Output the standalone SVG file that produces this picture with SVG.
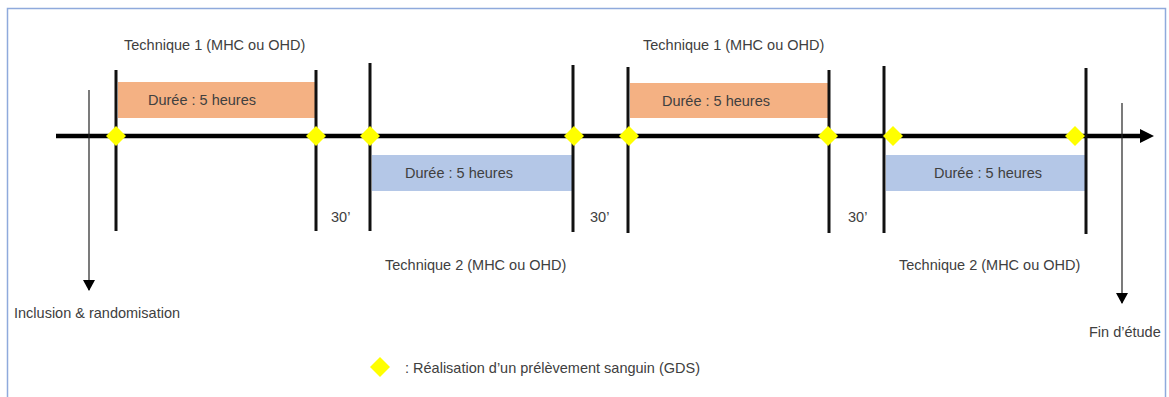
<svg xmlns="http://www.w3.org/2000/svg" width="1169" height="397" viewBox="0 0 1169 397">
<style>
text{font-family:"Liberation Sans",Arial,sans-serif;font-size:14.5px;fill:#404040}
.v{stroke:#111;stroke-width:3}
.thin{stroke:#222;stroke-width:1.2}
.or{fill:#F4B183}
.bl{fill:#B4C7E7}
.dm{fill:#FFFF00}
</style>
<defs>
<marker id="ah" markerWidth="12" markerHeight="12" refX="10" refY="6" orient="auto" markerUnits="userSpaceOnUse">
<path d="M0,0 L11,6 L0,12 Z" fill="#000"/>
</marker>
<path id="d" d="M0,-10 L10,0 L0,10 L-10,0 Z" class="dm"/>
</defs>
<rect x="7.5" y="8.5" width="1158" height="395" fill="#fff" stroke="#8FAADC" stroke-width="1.5"/>
<g id="connectors">
<line x1="56" y1="136" x2="1142" y2="136" stroke="#000" stroke-width="4.5"/>
<path d="M1140,129 L1154,136 L1140,143 Z" fill="#000"/>
<line class="thin" x1="89" y1="90" x2="89" y2="290" marker-end="url(#ah)"/>
<line class="thin" x1="1122" y1="103" x2="1122" y2="303" marker-end="url(#ah)"/>
</g>
<g id="tech1a"><rect class="or" x="118" y="82" width="198" height="36"/><text x="148" y="105">Durée : 5 heures</text><text x="124" y="50">Technique 1 (MHC ou OHD)</text></g>
<g id="tech2a"><rect class="bl" x="372" y="155" width="200" height="36"/><text x="405" y="178">Durée : 5 heures</text><text x="385" y="270">Technique 2 (MHC ou OHD)</text></g>
<g id="tech1b"><rect class="or" x="630" y="83" width="198" height="35"/><text x="662" y="106">Durée : 5 heures</text><text x="643" y="50">Technique 1 (MHC ou OHD)</text></g>
<g id="tech2b"><rect class="bl" x="886" y="155" width="200" height="36"/><text x="934" y="178">Durée : 5 heures</text><text x="899" y="270">Technique 2 (MHC ou OHD)</text></g>
<g id="ticks">
<line class="v" x1="116" y1="70" x2="116" y2="231"/>
<line class="v" x1="316" y1="70" x2="316" y2="231"/>
<line class="v" x1="370" y1="63" x2="370" y2="231"/>
<line class="v" x1="573" y1="65" x2="573" y2="232"/>
<line class="v" x1="628" y1="67" x2="628" y2="233"/>
<line class="v" x1="829" y1="70" x2="829" y2="233"/>
<line class="v" x1="884" y1="66" x2="884" y2="233"/>
<line class="v" x1="1086" y1="68" x2="1086" y2="234"/>
</g>
<g id="samples">
<use href="#d" x="116" y="136"/>
<use href="#d" x="316" y="136"/>
<use href="#d" x="370" y="136"/>
<use href="#d" x="574" y="136"/>
<use href="#d" x="629" y="136"/>
<use href="#d" x="828" y="136"/>
<use href="#d" x="893" y="136"/>
<use href="#d" x="1075" y="136"/>
</g>
<g id="gaps">
<text x="331" y="222">30’</text>
<text x="590" y="222">30’</text>
<text x="848" y="222">30’</text>
</g>
<g id="start"><text x="14" y="318">Inclusion &amp; randomisation</text></g>
<g id="end"><text x="1089" y="337">Fin d’étude</text></g>
<g id="legend"><use href="#d" x="380" y="367"/><text x="405" y="373">: Réalisation d’un prélèvement sanguin (GDS)</text></g>
</svg>
